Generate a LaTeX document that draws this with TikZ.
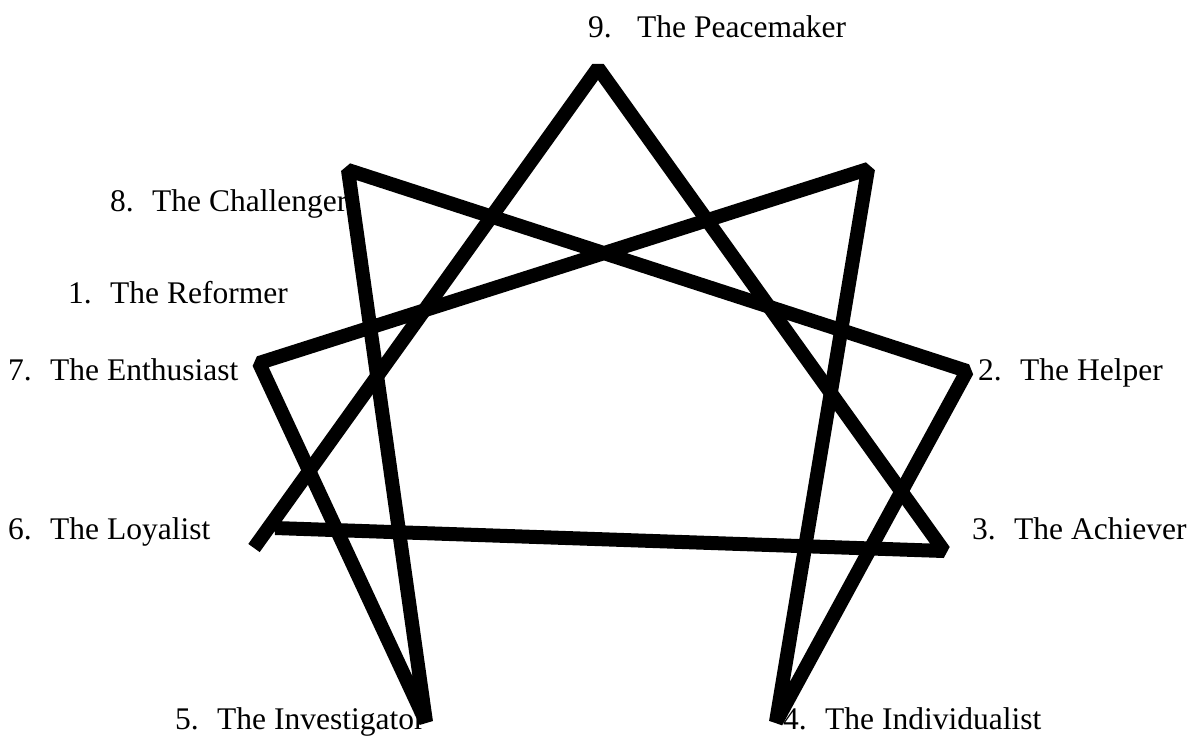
\documentclass[tikz,border=0pt]{standalone}
\usepackage{fontspec}
\setmainfont{Liberation Serif}
\usetikzlibrary{positioning,calc}
\tikzset{
 typelbl/.style={anchor=base west, inner sep=0pt, font=\fontsize{31.5}{36}\selectfont},
 stroke/.style={draw=black, line width=14pt, line join=bevel}
}
\newcommand{\typelabel}[2]{\makebox[42pt][l]{#1}#2}

\begin{document}
\begin{tikzpicture}[x=1pt,y=-1pt]
\useasboundingbox (0,0) rectangle (1194,740);
% points of the figure
\coordinate (p9) at (598,68);
\coordinate (p8) at (348,170);
\coordinate (p1) at (868,169);
\coordinate (p7) at (259,363);
\coordinate (p2) at (967,371);
\coordinate (p6) at (254,548);
\coordinate (p6b) at (275,528);
\coordinate (p3) at (944,551);
\coordinate (p5) at (426,722);
\coordinate (p4) at (776,722);
% labels
\node[typelbl] (peace) at (588,37) {\typelabel{9.}{\hspace{7pt}The Peacemaker}};
\node[typelbl] (chall) at (110,211) {\typelabel{8.}{The Challenger}};
\node[typelbl] (reform) at (68,303) {\typelabel{1.}{The Reformer}};
\node[typelbl] (enth) at (8,380) {\typelabel{7.}{The Enthusiast}};
\node[typelbl] (helper) at (978,380) {\typelabel{2.}{The Helper}};
\node[typelbl] (loyal) at (8,539) {\typelabel{6.}{The Loyalist}};
\node[typelbl] (achiev) at (972,539) {\typelabel{3.}{The Achiever}};
\node[typelbl] (invest) at (175,729) {\typelabel{5.}{The Investigator}};
\node[typelbl] (indiv) at (783,729) {\typelabel{4.}{The Individualist}};
% triangle and hexad
\draw[stroke] (p6b) -- (p3) -- (p9) -- (p6);
\draw[stroke] (p1) -- (p4) -- (p2) -- (p8) -- (p5) -- (p7) -- cycle;
\end{tikzpicture}
\end{document}
